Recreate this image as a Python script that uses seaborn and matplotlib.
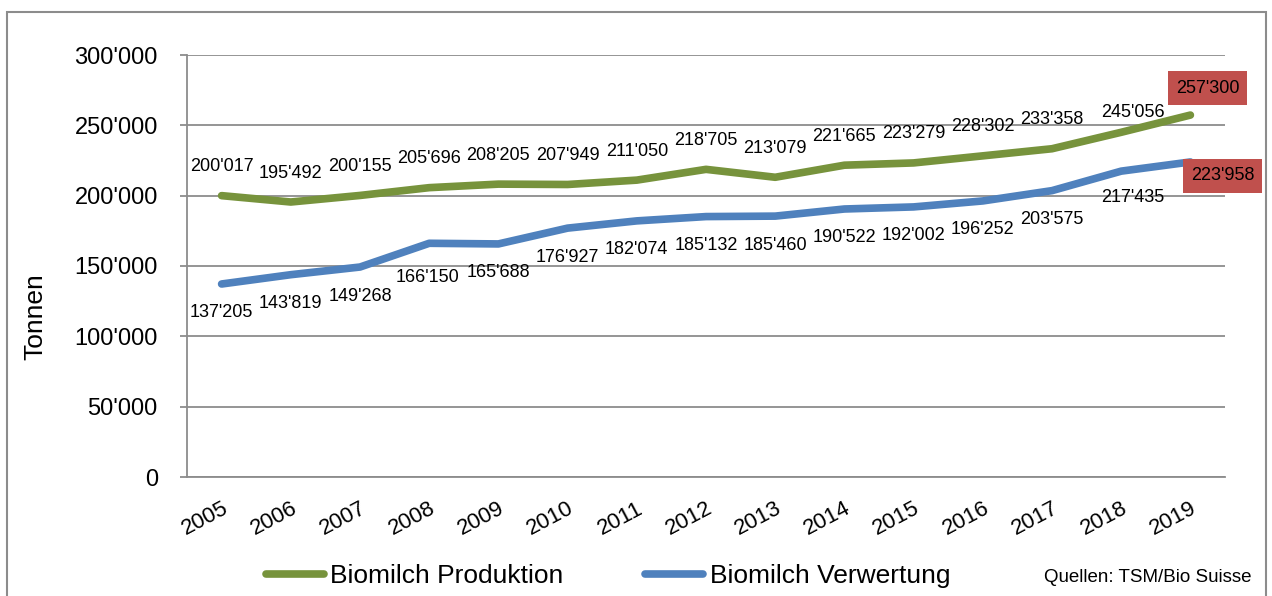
import numpy as np
import pandas as pd
import seaborn as sns
import matplotlib.pyplot as plt
import matplotlib.transforms as mtransforms
from matplotlib.ticker import FuncFormatter, MultipleLocator
from matplotlib.patches import Rectangle
from matplotlib.lines import Line2D

years = [2005, 2006, 2007, 2008, 2009, 2010, 2011, 2012, 2013, 2014, 2015, 2016, 2017, 2018, 2019]
produktion = [200017, 195492, 200155, 205696, 208205, 207949, 211050, 218705, 213079,
              221665, 223279, 228302, 233358, 245056, 257300]
verwertung = [137205, 143819, 149268, 166150, 165688, 176927, 182074, 185132, 185460,
              190522, 192002, 196252, 203575, 217435, 223958]
series_names = ["Biomilch Produktion", "Biomilch Verwertung"]
colors = ["#77933C", "#4F81BD"]
box_color = "#C0504D"
y_label = "Tonnen"
source = "Quellen: TSM/Bio Suisse"

def fmt(v):
    return f"{int(v):,}".replace(",", "'")

df = pd.DataFrame({
    "Jahr": years * 2,
    "Wert": produktion + verwertung,
    "Serie": [series_names[0]] * len(years) + [series_names[1]] * len(years),
})

sns.set_theme(style="white")
plt.rcParams['font.family'] = ['Liberation Sans', 'DejaVu Sans']
plt.rcParams['text.color'] = 'black'

fig = plt.figure(figsize=(12.72, 5.96), dpi=100)
ax = fig.add_axes([187/1272, 1 - 477/596, (1225 - 187)/1272, (477 - 55)/596])

sns.lineplot(data=df, x="Jahr", y="Wert", hue="Serie", palette=colors, ax=ax,
             linewidth=5.5, solid_capstyle="round", legend=False)

ax.set_xlim(2004.5, 2019.5)
ax.set_ylim(0, 300000)
ax.yaxis.set_major_locator(MultipleLocator(50000))
ax.yaxis.set_major_formatter(FuncFormatter(lambda v, p: fmt(v)))
ax.set_xticks(years)
ax.set_xticklabels([str(y) for y in years], rotation=28, ha="right", va="top",
                   rotation_mode="anchor")
shift = mtransforms.ScaledTranslation(-5/100, 0, fig.dpi_scale_trans)
for lab in ax.get_xticklabels():
    lab.set_transform(lab.get_transform() + shift)
ax.grid(axis="y", color="#8c8c8c", linewidth=1.3)
ax.set_axisbelow(True)
for s in ["top", "right"]:
    ax.spines[s].set_visible(False)
for s in ["left", "bottom"]:
    ax.spines[s].set_color("#8c8c8c")
    ax.spines[s].set_linewidth(1.3)
ax.tick_params(axis="y", which="major", left=True, length=5, width=1.3, color="#8c8c8c",
               pad=16, labelsize=17, labelcolor="black")
ax.tick_params(axis="x", which="major", bottom=False, pad=9, labelsize=16, labelcolor="black")
ax.set_xlabel("")
ax.set_ylabel("")

fig.text(35/1272, 1 - 317/596, y_label, rotation=90, ha="center", va="center", fontsize=19)

# data labels (pixel offsets)
g_off = {2018: (12, -20), 2019: (17, -27)}
b_off = {2008: (-2, 34), 2018: (12, 26), 2019: (32, 14)}
for i, yr in enumerate(years):
    dx, dy = g_off.get(yr, (0, -29))
    kw = {}
    if yr == years[-1]:
        kw["bbox"] = dict(boxstyle="square,pad=0.45", fc=box_color, ec="none")
    ax.annotate(fmt(produktion[i]), (yr, produktion[i]), xytext=(dx, -dy),
                textcoords="offset pixels", ha="center", va="center", fontsize=13, **kw)
    dx, dy = b_off.get(yr, (0, 29))
    kw = {}
    if yr == years[-1]:
        kw["bbox"] = dict(boxstyle="square,pad=0.45", fc=box_color, ec="none")
    ax.annotate(fmt(verwertung[i]), (yr, verwertung[i]), xytext=(dx, -dy),
                textcoords="offset pixels", ha="center", va="center", fontsize=13, **kw)

handles = [Line2D([0], [0], color=c, lw=5.5, solid_capstyle="round") for c in colors]
fig.legend(handles, series_names, loc="center", bbox_to_anchor=(608/1272, 1 - 576/596),
           ncol=2, frameon=False, fontsize=19, handlelength=2.2, handletextpad=0.25,
           columnspacing=3.1)

fig.text(1252/1272, 1 - 577/596, source, ha="right", va="center", fontsize=13.5)

fig.patches.append(Rectangle((7/1272, -0.05), (1266 - 7)/1272, 1.05 - 12/596,
                             transform=fig.transFigure, fill=False, ec="#8c8c8c", lw=1.5))

fig.savefig("out.png", dpi=100)
